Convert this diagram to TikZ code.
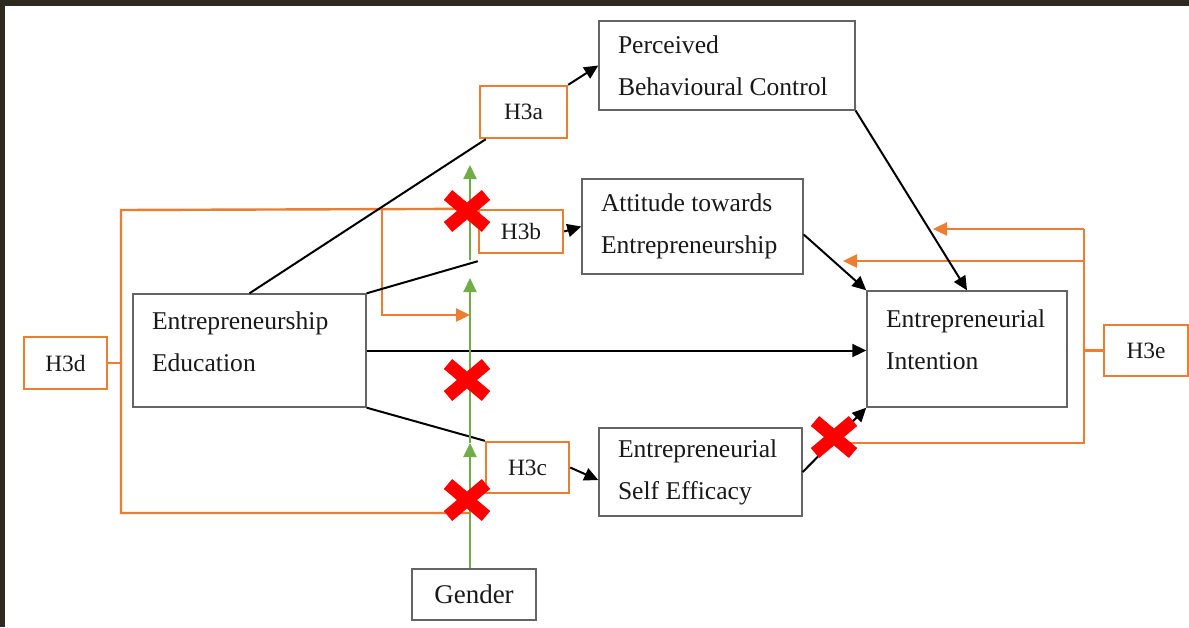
\documentclass[tikz,border=0pt]{standalone}
\usepackage{fontspec}
\setmainfont{Liberation Serif}
\usepackage{xcolor}
\usetikzlibrary{arrows.meta}

\definecolor{hypor}{RGB}{237,125,49}
\definecolor{modgreen}{RGB}{112,173,71}
\definecolor{boxgray}{RGB}{100,100,100}
\definecolor{darkframe}{RGB}{46,42,31}
\definecolor{txt}{RGB}{25,25,25}

\begin{document}
\begin{tikzpicture}[x=0.5pt, y=-0.5pt,
  box/.style={draw=boxgray, line width=0.7pt, fill=white, align=flush left, inner xsep=9.5pt, text=txt, font=\fontsize{12.8pt}{21pt}\selectfont},
  hyp/.style={draw=hypor, line width=1.2pt, fill=white, text=txt, font=\fontsize{11.7pt}{14pt}\selectfont, inner sep=0pt},
  link/.style={line width=1pt, black},
  orl/.style={line width=1.2pt, hypor},
  gline/.style={line width=1pt, modgreen},
  cross/.style={line width=6.5pt, red},
  >={Triangle[length=7pt,width=6.5pt]}]
% рамка
\useasboundingbox (0,0) rectangle (1189,627);
\fill[darkframe] (0,0) rectangle (1189,627);
\fill[white] (5,6) rectangle (1189,627);
% блоки
\node[box, text width=109pt, minimum height=44.5pt] (pbc) at (727,65.5) {Perceived\\Behavioural Control};
\node[box, text width=91.5pt, minimum height=47.5pt] (ate) at (692.5,226.5) {Attitude towards\\Entrepreneurship};
\node[box, text width=97.5pt, minimum height=56.5pt, text depth=30pt] (ee) at (249.5,350.5) {Entrepreneurship\\Education};
\node[box, text width=81pt, minimum height=58pt, text depth=30pt] (ei) at (967,349) {Entrepreneurial\\Intention};
\node[box, text width=82.5pt, minimum height=44pt] (ese) at (700.5,472) {Entrepreneurial\\Self Efficacy};
\node[box, align=center, inner sep=0pt, minimum width=62pt, minimum height=25.5pt, font=\fontsize{13.5pt}{16pt}\selectfont] (gender) at (474,594.5) {Gender};
% гипотезы
\node[hyp, minimum width=43.5pt, minimum height=26pt] (h3a) at (523.5,112) {H3a};
\node[hyp, minimum width=42pt, minimum height=21.5pt] (h3b) at (521,231.5) {H3b};
\node[hyp, minimum width=41.5pt, minimum height=25.5pt] (h3c) at (527.5,467.5) {H3c};
\node[hyp, minimum width=41.5pt, minimum height=26pt] (h3d) at (65.5,363) {H3d};
\node[hyp, minimum width=42pt, minimum height=25.5pt] (h3e) at (1146,350.5) {H3e};
% точки
\coordinate (dtop) at (121,210);
\coordinate (dmid) at (121,363);
\coordinate (dbot) at (121,513);
\coordinate (gbot) at (470,513);
\coordinate (branch) at (382,210);
\coordinate (bturn) at (382,315);
\coordinate (gmid) at (470,315);
\coordinate (etop) at (1084,229);
\coordinate (emid) at (1084,261);
\coordinate (ebot) at (1084,443);
\coordinate (etip1) at (933,229);
\coordinate (etip2) at (843,261);
\coordinate (eend) at (845,443);
\coordinate (g1) at (470,443);
\coordinate (g2) at (470,278);
\coordinate (g3) at (470,260);
\coordinate (g4) at (470,165);
% оранжевые линии
\draw[orl] (h3d.east) -- (dmid);
\draw[orl] (h3b.north west) -- (dtop) -- (dbot) -- (gbot);
\draw[orl, ->] (branch) -- (bturn) -- (gmid);
\draw[orl] (h3e.west) -- (h3e.west -| etop);
\draw[orl] (etop) -- (ebot) -- (eend);
\draw[orl, ->] (etop) -- (etip1);
\draw[orl, ->] (emid) -- (etip2);
% связи
\draw[link] (ee.north) -- ([xshift=3.5pt]h3a.south west);
\draw[link, ->] (h3a.north east) -- (pbc.west);
\draw[link] (ee.north east) -- ([yshift=-3.5pt]h3b.south west);
\draw[link, ->] (h3b.east) -- (ate.west);
\draw[link, ->] (ee.east) -- (ee.east -| ei.west);
\draw[link] (ee.south east) -- (h3c.north west);
\draw[link, ->] (h3c.east) -- ([yshift=-4pt]ese.west);
\draw[link, ->] (ese.east) -- (ei.south west);
\draw[link, ->] ([yshift=-4pt]ate.east) -- (ei.north west);
\draw[link, ->] (pbc.south east) -- (ei.north);
% модератор
\draw[gline, ->] (gender.north -| g1) -- (g1);
\draw[gline, ->] (g1) -- (g2);
\draw[gline, ->] (g3) -- (g4);
% кресты
\draw[cross] (467,211) ++(-19,-16) -- ++(38,32) ++(0,-32) -- ++(-38,32);
\draw[cross] (467,380) ++(-19,-16) -- ++(38,32) ++(0,-32) -- ++(-38,32);
\draw[cross] (467,500) ++(-19,-16) -- ++(38,32) ++(0,-32) -- ++(-38,32);
\draw[cross] (834,437) ++(-19,-16) -- ++(38,32) ++(0,-32) -- ++(-38,32);
\end{tikzpicture}
\end{document}
